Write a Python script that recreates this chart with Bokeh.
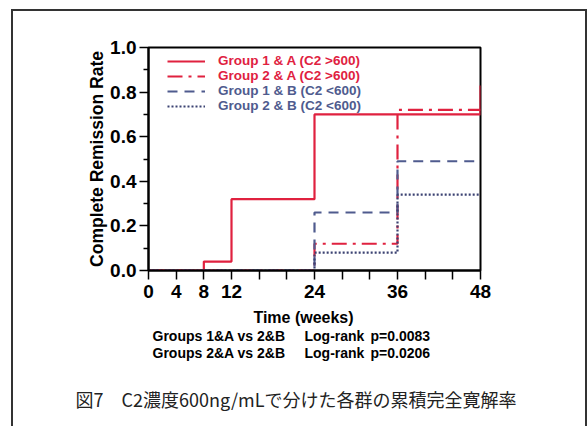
from bokeh.plotting import figure
from bokeh.layouts import column
from bokeh.models import (Range1d, FixedTicker, Legend, LegendItem, NumeralTickFormatter)
from bokeh.core.properties import value
from bokeh.embed import file_html
from bokeh.resources import INLINE

# ---- data ----
g1a_t = [0, 8, 12, 24, 48]
g1a_v = [0.0, 0.04, 0.32, 0.70, 0.83]
g2a_t = [0, 24, 36, 48]
g2a_v = [0.0, 0.12, 0.72, 0.72]
g1b_t = [0, 24, 36, 48]
g1b_v = [0.0, 0.26, 0.49, 0.49]
g2b_t = [0, 24, 36, 48]
g2b_v = [0.0, 0.08, 0.34, 0.34]

labels = ["Group 1 & A (C2 >600)", "Group 2 & A (C2 >600)",
          "Group 1 & B (C2 <600)", "Group 2 & B (C2 <600)"]
x_ticks = list(range(0, 49, 4))
x_tick_labels = {0: "0", 4: "4", 8: "8", 12: "12", 24: "24", 36: "36", 48: "48"}
y_ticks = [0.0, 0.2, 0.4, 0.6, 0.8, 1.0]
y_minor = [0.1, 0.3, 0.5, 0.7, 0.9]
compare_rows = [["Groups 1&A vs 2&B", "Log-rank", "p=0.0083"],
                ["Groups 2&A vs 2&B", "Log-rank", "p=0.0206"]]
x_title = "Time (weeks)"
y_title = "Complete Remission Rate"
caption = "図7\u3000C2濃度600ng/mLで分けた各群の累積完全寛解率"

RED = "#e0213f"
BLUE = "#4f5b8e"
DOT = "#3b4272"
FONT = "Liberation Sans"

W = 572
p = figure(width=W, height=289, output_backend="svg", toolbar_location=None,
           x_range=Range1d(0, 48), y_range=Range1d(0, 1.0),
           min_border_left=135, min_border_right=105,
           min_border_top=36, min_border_bottom=29)
p.frame_align = False
p.grid.visible = False
p.outline_line_color = "black"
p.outline_line_width = 2
p.background_fill_color = "white"
p.border_fill_color = "white"

r1 = p.step(g1a_t, g1a_v, mode="after", line_color=RED, line_width=2.2)
r2 = p.step(g2a_t, g2a_v, mode="after", line_color=RED, line_width=2.2, line_dash="15 6 3 6")
r3 = p.step(g1b_t, g1b_v, mode="after", line_color=BLUE, line_width=2.2, line_dash="10 7")
r4 = p.step(g2b_t, g2b_v, mode="after", line_color=DOT, line_width=2.2, line_dash="2 2")

# axes
p.xaxis.ticker = FixedTicker(ticks=x_ticks)
p.xaxis.major_label_overrides = {t: x_tick_labels.get(t, "") for t in x_ticks}
p.yaxis.ticker = FixedTicker(ticks=y_ticks, minor_ticks=y_minor)
p.yaxis.formatter = NumeralTickFormatter(format="0.0")
for ax in (p.xaxis[0], p.yaxis[0]):
    ax.axis_line_width = 2
    ax.axis_line_color = "black"
    ax.major_tick_line_width = 1.5
    ax.major_tick_line_color = "black"
    ax.minor_tick_line_color = "black"
    ax.minor_tick_line_width = 1.5
    ax.major_tick_in = 0
    ax.major_tick_out = 9
    ax.minor_tick_in = 0
    ax.minor_tick_out = 5
    ax.major_label_text_font = FONT
    ax.major_label_text_font_style = "bold"
    ax.major_label_text_color = "black"
    ax.major_label_text_font_size = "19px"
p.xaxis.major_label_standoff = 5
p.yaxis.major_label_standoff = 3
p.yaxis.axis_label = y_title
p.yaxis.axis_label_text_font = FONT
p.yaxis.axis_label_text_font_style = "bold"
p.yaxis.axis_label_text_font_size = "17.5px"
p.yaxis.axis_label_text_color = "black"
p.yaxis.axis_label_standoff = 0

# legends
def make_legend(items, color, loc):
    lg = Legend(items=items, location=loc, orientation="vertical",
                label_text_font=FONT, label_text_font_style="bold",
                label_text_font_size="13.5px", label_text_color=color,
                label_height=14, glyph_height=14, glyph_width=38,
                label_standoff=13, spacing=0, padding=0, margin=0,
                border_line_alpha=0, background_fill_alpha=0)
    p.add_layout(lg)

make_legend([LegendItem(label=labels[0], renderers=[r1]),
             LegendItem(label=labels[1], renderers=[r2])], RED, (19, 187))
make_legend([LegendItem(label=labels[2], renderers=[r3]),
             LegendItem(label=labels[3], renderers=[r4])], BLUE, (19, 157))

# ---- text panel below the chart ----
H2 = 126
p2 = figure(width=W, height=H2, output_backend="svg", toolbar_location=None,
            x_range=Range1d(0, W), y_range=Range1d(H2, 0),
            x_axis_location=None, y_axis_location=None,
            min_border=0, outline_line_color=None)
p2.frame_align = False
p2.grid.visible = False
p2.background_fill_color = "white"
p2.border_fill_color = "white"

p2.text(x=[290], y=[17], text=[x_title], text_font=value(FONT), text_font_style="bold",
        text_font_size="16px", text_align="center", text_baseline="middle",
        text_color="black")
col_x = [139, 291, 357]
for i, row in enumerate(compare_rows):
    p2.text(x=col_x, y=[35 + 17 * i] * 3, text=row, text_font=value(FONT),
            text_font_style="bold", text_font_size="14px", text_align="left",
            text_baseline="middle", text_color="black")
p2.text(x=[62], y=[98], text=[caption], text_font=value("Noto Sans CJK JP"),
        text_font_size="18px", text_align="left", text_baseline="middle",
        text_color="#222222")

layout = column(p, p2, spacing=0, margin=(9, 0, 0, 11),
                styles={"border-top": "2px solid #333", "border-left": "2px solid #333",
                        "border-right": "2px solid #333"})

open("out.html", "w").write(file_html(layout, INLINE))
